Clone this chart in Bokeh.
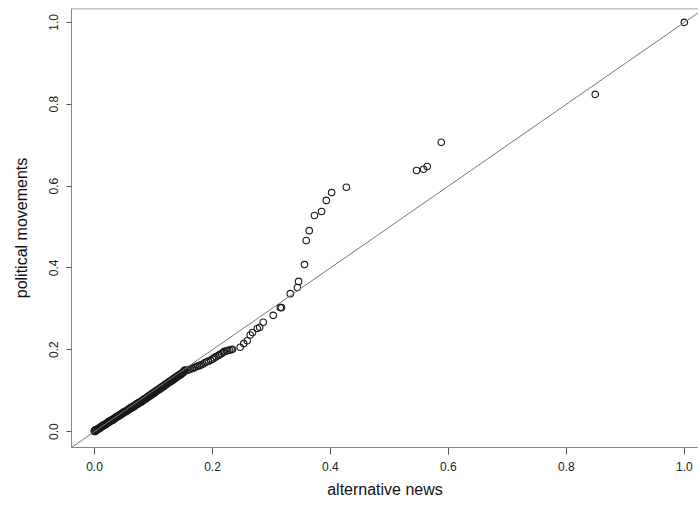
from bokeh.plotting import figure
from bokeh.models import Slope, Span, FixedTicker, PrintfTickFormatter, Range1d
from bokeh.embed import file_html
from bokeh.resources import INLINE

# QQ points: quantiles of alternative news (x) vs political movements (y)
alt_news = [0.000, 0.001, 0.000, 0.001, 0.003, 0.002,
            0.000, 0.002, 0.004, 0.006, 0.008, 0.010, 0.012, 0.014, 0.016, 0.018,
            0.020, 0.022, 0.024, 0.026, 0.028, 0.030, 0.032, 0.034, 0.036, 0.038,
            0.040, 0.042, 0.044, 0.046, 0.048, 0.050, 0.052, 0.054, 0.056, 0.058,
            0.060, 0.062, 0.064, 0.066, 0.068, 0.070, 0.072, 0.074, 0.076, 0.078,
            0.080, 0.082, 0.084, 0.086, 0.088, 0.090, 0.092, 0.094, 0.096, 0.098,
            0.100, 0.102, 0.104, 0.106, 0.108, 0.110, 0.112, 0.114, 0.116, 0.118,
            0.120, 0.122, 0.124, 0.126, 0.128, 0.130, 0.132, 0.134, 0.136, 0.138,
            0.140, 0.142, 0.144, 0.146, 0.148, 0.150, 0.152, 0.154,
            0.001, 0.003, 0.005, 0.007, 0.009, 0.011, 0.013, 0.015, 0.017, 0.019,
            0.021, 0.023, 0.025, 0.027, 0.029, 0.031, 0.033, 0.035, 0.037, 0.039,
            0.041, 0.043, 0.045, 0.047, 0.049, 0.051, 0.053, 0.055, 0.057, 0.059,
            0.061, 0.063, 0.065, 0.067, 0.069, 0.071, 0.073, 0.075, 0.077, 0.079,
            0.081, 0.083, 0.085, 0.087, 0.089, 0.091, 0.093, 0.095, 0.097, 0.099,
            0.101, 0.103, 0.105, 0.107, 0.109, 0.111, 0.113, 0.115, 0.117, 0.119,
            0.121, 0.123, 0.125, 0.127, 0.129, 0.131, 0.133, 0.135, 0.137, 0.139,
            0.141, 0.143, 0.145, 0.147, 0.149, 0.151, 0.153,
            0.158, 0.160, 0.163, 0.166, 0.169, 0.172, 0.175, 0.178, 0.181, 0.184,
            0.187, 0.190, 0.193, 0.197, 0.200, 0.203, 0.206, 0.210, 0.212, 0.215,
            0.218, 0.220, 0.224, 0.226, 0.229, 0.232, 0.234,
            0.247, 0.253, 0.259, 0.264, 0.268, 0.276, 0.280, 0.286, 0.303, 0.315,
            0.317, 0.332, 0.344, 0.346, 0.356, 0.359, 0.364, 0.373, 0.385, 0.393,
            0.402, 0.427, 0.546, 0.558, 0.564, 0.588, 0.849, 1.000]
pol_mov = [0.001, 0.000, 0.002, 0.003, 0.002, 0.004,
           0.000, 0.002, 0.004, 0.005, 0.007, 0.009, 0.011, 0.013, 0.015, 0.016,
           0.018, 0.020, 0.022, 0.024, 0.026, 0.027, 0.029, 0.031, 0.033, 0.035,
           0.037, 0.038, 0.040, 0.042, 0.044, 0.046, 0.048, 0.049, 0.051, 0.053,
           0.055, 0.057, 0.059, 0.060, 0.062, 0.064, 0.066, 0.068, 0.070, 0.071,
           0.073, 0.075, 0.077, 0.079, 0.081, 0.083, 0.085, 0.087, 0.089, 0.091,
           0.093, 0.095, 0.097, 0.099, 0.101, 0.103, 0.105, 0.107, 0.109, 0.111,
           0.113, 0.115, 0.117, 0.119, 0.121, 0.123, 0.125, 0.127, 0.129, 0.131,
           0.133, 0.135, 0.137, 0.139, 0.141, 0.144, 0.146, 0.149,
           0.003, 0.005, 0.006, 0.008, 0.010, 0.012, 0.014, 0.016, 0.017, 0.019,
           0.021, 0.023, 0.025, 0.027, 0.028, 0.030, 0.032, 0.034, 0.036, 0.038,
           0.039, 0.041, 0.043, 0.045, 0.047, 0.049, 0.050, 0.052, 0.054, 0.056,
           0.058, 0.060, 0.061, 0.063, 0.065, 0.067, 0.069, 0.071, 0.072, 0.074,
           0.076, 0.078, 0.080, 0.082, 0.084, 0.086, 0.088, 0.090, 0.092, 0.094,
           0.096, 0.098, 0.100, 0.102, 0.104, 0.106, 0.108, 0.110, 0.112, 0.114,
           0.116, 0.118, 0.120, 0.122, 0.124, 0.126, 0.128, 0.130, 0.132, 0.134,
           0.136, 0.138, 0.140, 0.142, 0.144, 0.147, 0.150,
           0.150, 0.151, 0.153, 0.154, 0.156, 0.158, 0.160, 0.161, 0.163, 0.165,
           0.168, 0.170, 0.172, 0.174, 0.177, 0.180, 0.183, 0.186, 0.188, 0.190,
           0.193, 0.196, 0.197, 0.198, 0.199, 0.200, 0.201,
           0.206, 0.215, 0.222, 0.236, 0.242, 0.252, 0.255, 0.267, 0.284, 0.303,
           0.303, 0.337, 0.352, 0.367, 0.408, 0.467, 0.491, 0.528, 0.538, 0.565,
           0.584, 0.597, 0.638, 0.641, 0.648, 0.707, 0.824, 1.000]

x_ticks = [0.0, 0.2, 0.4, 0.6, 0.8, 1.0]
y_ticks = [0.0, 0.2, 0.4, 0.6, 0.8, 1.0]

FONT = "Liberation Sans"
AX = "#555555"

p = figure(width=698, height=505, frame_width=627, frame_height=439,
           min_border_left=71, min_border_right=0, min_border_top=8, min_border_bottom=58,
           x_range=Range1d(-0.039, 1.024), y_range=Range1d(-0.039, 1.034),
           output_backend="svg", toolbar_location=None)
p.background_fill_color = "white"
p.border_fill_color = "white"
p.outline_line_color = None
p.grid.visible = False

p.add_layout(Slope(gradient=1, y_intercept=0, line_color="#777777", line_width=1))
p.add_layout(Span(location=1.034, dimension="width", line_color="#888888", line_width=1.5))

p.scatter(alt_news, pol_mov, marker="circle", size=6.5, fill_color=None,
          line_color="#1a1a1a", line_width=1.1)

for ax, ticks in ((p.xaxis[0], x_ticks), (p.yaxis[0], y_ticks)):
    ax.ticker = FixedTicker(ticks=ticks)
    ax.formatter = PrintfTickFormatter(format="%.1f")
    ax.minor_tick_line_color = None
    ax.major_tick_in = 0
    ax.major_tick_line_color = AX
    ax.axis_line_color = "#888888"
    ax.major_label_text_font = FONT
    ax.major_label_text_font_size = "12px"
    ax.major_label_text_color = "#222222"
    ax.axis_label_text_font = FONT
    ax.axis_label_text_font_size = "16px"
    ax.axis_label_text_font_style = "normal"
    ax.axis_label_text_color = "#111111"

p.xaxis.major_tick_out = 7
p.xaxis.major_label_standoff = 7
p.xaxis.axis_label_standoff = 7
p.yaxis.major_tick_out = 5
p.yaxis.major_label_standoff = 8
p.yaxis.axis_label_standoff = 17

p.xaxis.axis_label = "alternative news"
p.yaxis.axis_label = "political movements"
p.yaxis.major_label_orientation = "vertical"

open("out.html", "w").write(file_html(p, INLINE))
